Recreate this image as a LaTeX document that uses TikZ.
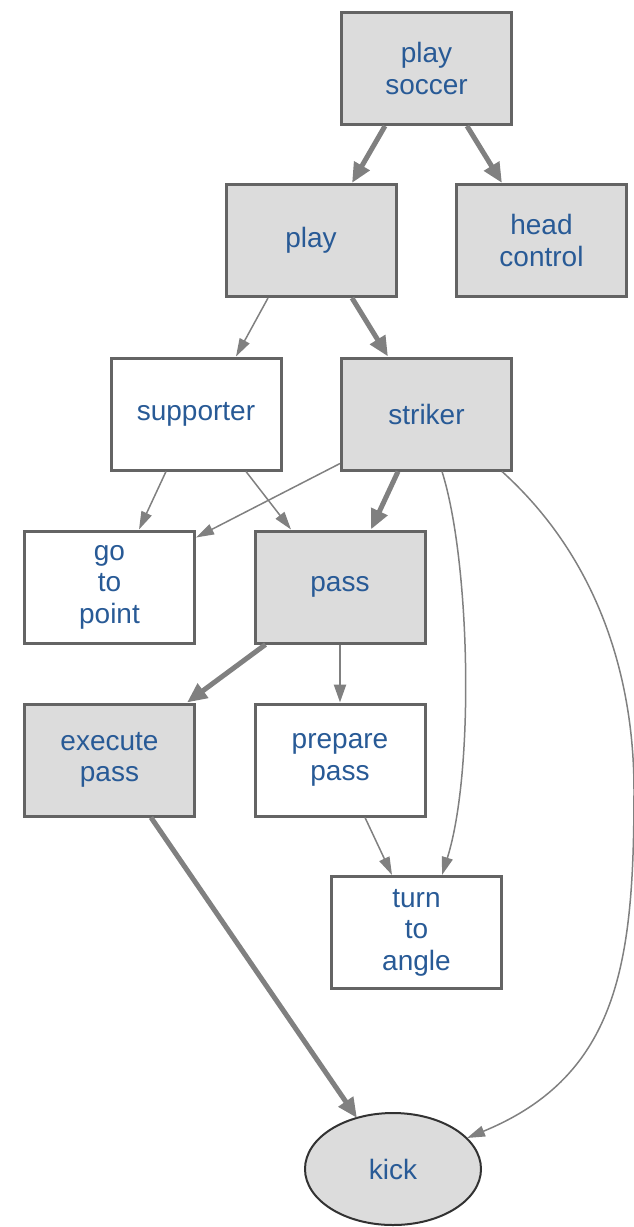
\documentclass[tikz,border=0pt]{standalone}
\usepackage{fontspec}
\setmainfont{Liberation Sans}
\usetikzlibrary{arrows.meta,shapes.geometric,calc}
\definecolor{labelblue}{RGB}{40,90,150}
\definecolor{edgegray}{RGB}{128,128,128}
\definecolor{boxborder}{RGB}{100,100,100}
\definecolor{boxfill}{RGB}{220,220,220}
\definecolor{ovalborder}{RGB}{50,50,50}

\tikzset{
  box/.style={rectangle, draw=boxborder, line width=3pt, minimum width=170pt,
    minimum height=112pt, inner sep=0pt, align=center, text=labelblue,
    font=\fontsize{28}{31.5}\selectfont},
  active/.style={box, fill=boxfill},
  idle/.style={box, fill=white},
  oval/.style={ellipse, draw=ovalborder, line width=2pt, fill=boxfill,
    minimum width=176pt, minimum height=112pt, inner sep=0pt, text=labelblue,
    font=\fontsize{28}{31.5}\selectfont},
  heavy/.style={draw=edgegray, line width=5pt, -{Triangle[length=20pt,width=17pt]}},
  medium/.style={draw=edgegray, line width=2.5pt, -{Triangle[length=18pt,width=12pt]}},
  light/.style={draw=edgegray, line width=1.5pt, -{Triangle[length=18pt,width=11pt]}},
}

\begin{document}
\begin{tikzpicture}[x=1pt,y=-1pt]
\useasboundingbox (0,0) rectangle (633,1227);

% behaviour nodes
\node[active] (playsoccer)  at (426.5,68.5)  {play\\soccer};
\node[active] (play)        at (311,240.5)   {play};
\node[active] (headcontrol) at (541.5,240.5) {head\\control};
\node[idle]   (supporter)   at (196,414)     {supporter};
\node[active] (striker)     at (426.5,414)   {striker};
\node[idle]   (gotopoint)   at (109.5,587)   {go\\to\\point};
\node[active] (pass)        at (340,587)     {pass};
\node[active] (executepass) at (109.5,760)   {execute\\pass};
\node[idle]   (preparepass) at (340,760)     {prepare\\pass};
\node[idle]   (turntoangle) at (416.5,932.5) {turn\\to\\angle};
\node[oval]   (kick)        at (393,1169)    {kick};

% calls between behaviours
\draw[heavy] ($(playsoccer.south)+(-41.5,0)$) -- ($(play.north)+(41,0)$);
\draw[heavy] ($(playsoccer.south)+(40.5,0)$) -- ($(headcontrol.north)+(-39.5,0)$);
\draw[light] ($(play.south)+(-43,0)$) -- ($(supporter.north)+(40,0)$);
\draw[heavy] ($(play.south)+(41,0)$) -- ($(striker.north)+(-38.5,0)$);
\draw[light] ($(supporter.south)+(-30,0)$) -- ($(gotopoint.north)+(29.5,0)$);
\draw[light] ($(supporter.south)+(50,0)$) -- ($(pass.north)+(-49,0)$);
\draw[light] ($(striker.south west)+(0,-8)$) -- ($(gotopoint.north east)+(0,8)$);
\draw[heavy] ($(striker.south)+(-28.5,0)$) -- ($(pass.north)+(31,0)$);
\draw[light] ($(striker.south)+(15.5,0)$) .. controls (470,560) and (475,770) .. ($(turntoangle.north)+(25.5,0)$);
\draw[light] ($(striker.south)+(75.5,0)$) .. controls (600,560) and (634,680) .. (634,790)
  .. controls (634,960) and (620,1075) .. ($(kick.center)+(74,-31)$);
\draw[heavy] ($(pass.south west)+(12,0)$) -- ($(executepass.north east)+(-9,0)$);
\draw[medium] (pass.south) -- (preparepass.north);
\draw[light] ($(preparepass.south)+(25,0)$) -- ($(turntoangle.north)+(-24.5,0)$);
\draw[heavy] ($(executepass.south)+(41.5,0)$) -- ($(kick.center)+(-36,-51)$);
\end{tikzpicture}
\end{document}
